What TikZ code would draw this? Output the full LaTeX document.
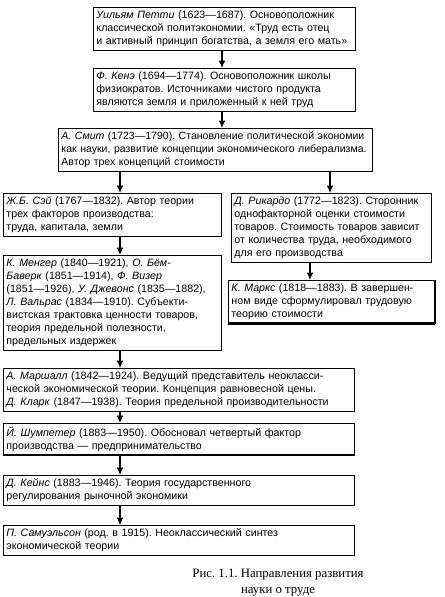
\documentclass[tikz,border=0pt]{standalone}
\usepackage{fontspec}
\setmainfont{Liberation Sans}
\newfontfamily\capfont{Liberation Serif}
\usetikzlibrary{arrows.meta}
\frenchspacing

\tikzset{
  entry/.style={draw, line width=0.8pt, anchor=north west, align=left,
    inner xsep=2.2pt, inner ysep=2.5pt, font=\fontsize{8}{9.75}\selectfont},
  flow/.style={line width=0.8pt, -{Latex[length=5.5pt,width=5pt]}},
}

\begin{document}
\begin{tikzpicture}[x=0.75pt,y=0.75pt,yscale=-1]
\useasboundingbox (0,0) rectangle (445,597);

% columns of the arrows
\coordinate (topcol) at (222,0);
\coordinate (lcol) at (120,0);
\coordinate (rcol) at (330,0);
\coordinate (mcol) at (310,0);

% Text Node
\node[entry, text width=192pt] (petty) at (93,7)
  {\textit{Уильям Петти} (1623—1687). Основоположник\\
   классической политэкономии. «Труд есть отец\\
   и активный принцип богатства, а земля его мать»};
% Text Node
\node[entry, text width=192pt] (quesnay) at (93,68)
  {\textit{Ф. Кенэ} (1694—1774). Основоположник школы\\
   физиократов. Источниками чистого продукта\\
   являются земля и приложенный к ней труд};
% Text Node
\node[entry, text width=231pt, font=\fontsize{7.9}{9.75}\selectfont] (smith) at (58,128)
  {\textit{А. Смит} (1723—1790). Становление политической экономии\\
   как науки, развитие концепции экономического либерализма.\\
   Автор трех концепций стоимости};
% Text Node
\node[entry, text width=159pt] (say) at (3,193)
  {\textit{Ж.Б. Сэй} (1767—1832). Автор теории\\
   трех факторов производства:\\
   труда, капитала, земли};
% Text Node
\node[entry, text width=145.5pt] (ricardo) at (231,193)
  {\textit{Д. Рикардо} (1772—1823). Сторонник\\
   однофакторной оценки стоимости\\
   товаров. Стоимость товаров зависит\\
   от количества труда, необходимого\\
   для его производства};
% Text Node
\node[entry, text width=159pt] (menger) at (3,255)
  {\textit{К. Менгер} (1840—1921), \textit{О. Бём-}\\
   \textit{Баверк} (1851—1914), \textit{Ф. Визер}\\
   (1851—1926), \textit{У. Джевонс} (1835—1882),\\
   \textit{Л. Вальрас} (1834—1910). Субъекти-\\
   вистская трактовка ценности товаров,\\
   теория предельной полезности,\\
   предельных издержек};
% Text Node
\node[entry, text width=150pt] (marx) at (228,280)
  {\textit{К. Маркс} (1818—1883). В завершен-\\
   ном виде сформулировал трудовую\\
   теорию стоимости};
\draw[line width=2.2pt] (marx.south west) -- (marx.south east);
\draw[line width=1.6pt] (marx.north east) -- (marx.south east);
% Text Node
\node[entry, text width=258.8pt] (marshall) at (3,368)
  {\textit{А. Маршалл} (1842—1924). Ведущий представитель неокласси-\\
   ческой экономической теории. Концепция равновесной цены.\\
   \textit{Д. Кларк} (1847—1938). Теория предельной производительности};
% Text Node
\node[entry, text width=258.8pt] (schumpeter) at (3,423)
  {\textit{Й. Шумпетер} (1883—1950). Обосновал четвертый фактор\\
   производства — предпринимательство};
% Text Node
\node[entry, text width=258.8pt] (keynes) at (3,475)
  {\textit{Д. Кейнс} (1883—1946). Теория государственного\\
   регулирования рыночной экономики};
% Text Node
\node[entry, text width=258.8pt] (samuelson) at (3,525)
  {\textit{П. Самуэльсон} (род. в 1915). Неоклассический синтез\\
   экономической теории};

% Caption
\node[align=center, font=\capfont\fontsize{9.6}{12}\selectfont] (caption) at (278,583)
  {Рис. 1.1. Направления развития\\ науки о труде};

% Arrows
\draw[flow] (petty.south -| topcol) -- (quesnay.north -| topcol);
\draw[flow] (quesnay.south -| topcol) -- (smith.north -| topcol);
\draw[flow] (smith.south -| lcol) -- (say.north -| lcol);
\draw[flow] (smith.south -| rcol) -- (ricardo.north -| rcol);
\draw[flow] (say.south -| lcol) -- (menger.north -| lcol);
\draw[flow] (ricardo.south -| mcol) -- (marx.north -| mcol);
\draw[flow] (menger.south -| lcol) -- (marshall.north -| lcol);
\draw[flow] (marshall.south -| lcol) -- (schumpeter.north -| lcol);
\draw[flow] (schumpeter.south -| lcol) -- (keynes.north -| lcol);
\draw[flow] (keynes.south -| lcol) -- (samuelson.north -| lcol);

\end{tikzpicture}
\end{document}
